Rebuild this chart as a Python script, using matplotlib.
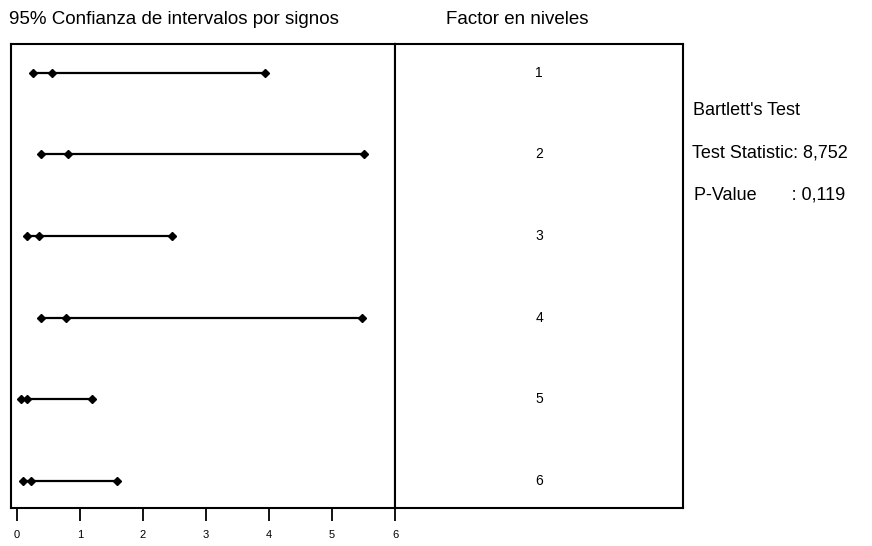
import numpy as np
import matplotlib.pyplot as plt

plt.rcParams['font.family'] = ['Liberation Sans', 'DejaVu Sans']

# intervalos de confianza por nivel: limite inferior, sigma, limite superior
levels = ['1', '2', '3', '4', '5', '6']
lower = [0.26, 0.385, 0.17, 0.385, 0.07, 0.105]
sigma = [0.56, 0.81, 0.36, 0.79, 0.17, 0.23]
upper = [3.94, 5.51, 2.46, 5.47, 1.20, 1.59]
xticks = [0, 1, 2, 3, 4, 5, 6]

title_left = '95% Confianza de intervalos por signos'
title_right = 'Factor en niveles'
test_lines = ["Bartlett's Test", 'Test Statistic: 8,752', 'P-Value       : 0,119']

fig = plt.figure(figsize=(8.72, 5.46), dpi=100)
ax = fig.add_axes([11/872, 38/546, 384/872, 464/546])
ax2 = fig.add_axes([395/872, 38/546, 288/872, 464/546])

ypos = np.arange(1, len(levels) + 1)
for y, lo, s, hi in zip(ypos, lower, sigma, upper):
    ax.plot([lo, hi], [y, y], color='black', lw=1.6, solid_capstyle='butt')
    ax.plot([lo, s, hi], [y, y, y], ls='none', marker='D', ms=4.5, color='black')

ax.set_xlim(-0.09, 6)
ax.set_ylim(6.33, 0.65)
ax.set_xticks(xticks)
ax.set_xticklabels([str(t) for t in xticks], fontsize=8)
ax.set_yticks([])
ax.tick_params(axis='x', direction='out', length=9.5, width=1.3, pad=6)
for sp in ax.spines.values():
    sp.set_linewidth(1.5)

ax2.set_xlim(0, 1)
ax2.set_ylim(6.33, 0.65)
ax2.set_xticks([])
ax2.set_yticks([])
for sp in ax2.spines.values():
    sp.set_linewidth(1.5)
for y, lv in zip(ypos, levels):
    ax2.text(0.5, y, lv, ha='center', va='center', fontsize=10)

fig.text(9/872, 1 - 19/546, title_left, fontsize=13.5, va='center', ha='left')
fig.text(446/872, 1 - 19/546, title_right, fontsize=13.5, va='center', ha='left')

fig.text(693/872, 1 - 111/546, test_lines[0], fontsize=13, va='center', ha='left')
fig.text(692/872, 1 - 153/546, test_lines[1], fontsize=13, va='center', ha='left')
fig.text(694/872, 1 - 195/546, test_lines[2], fontsize=13, va='center', ha='left')

fig.savefig('out.png', dpi=100)
